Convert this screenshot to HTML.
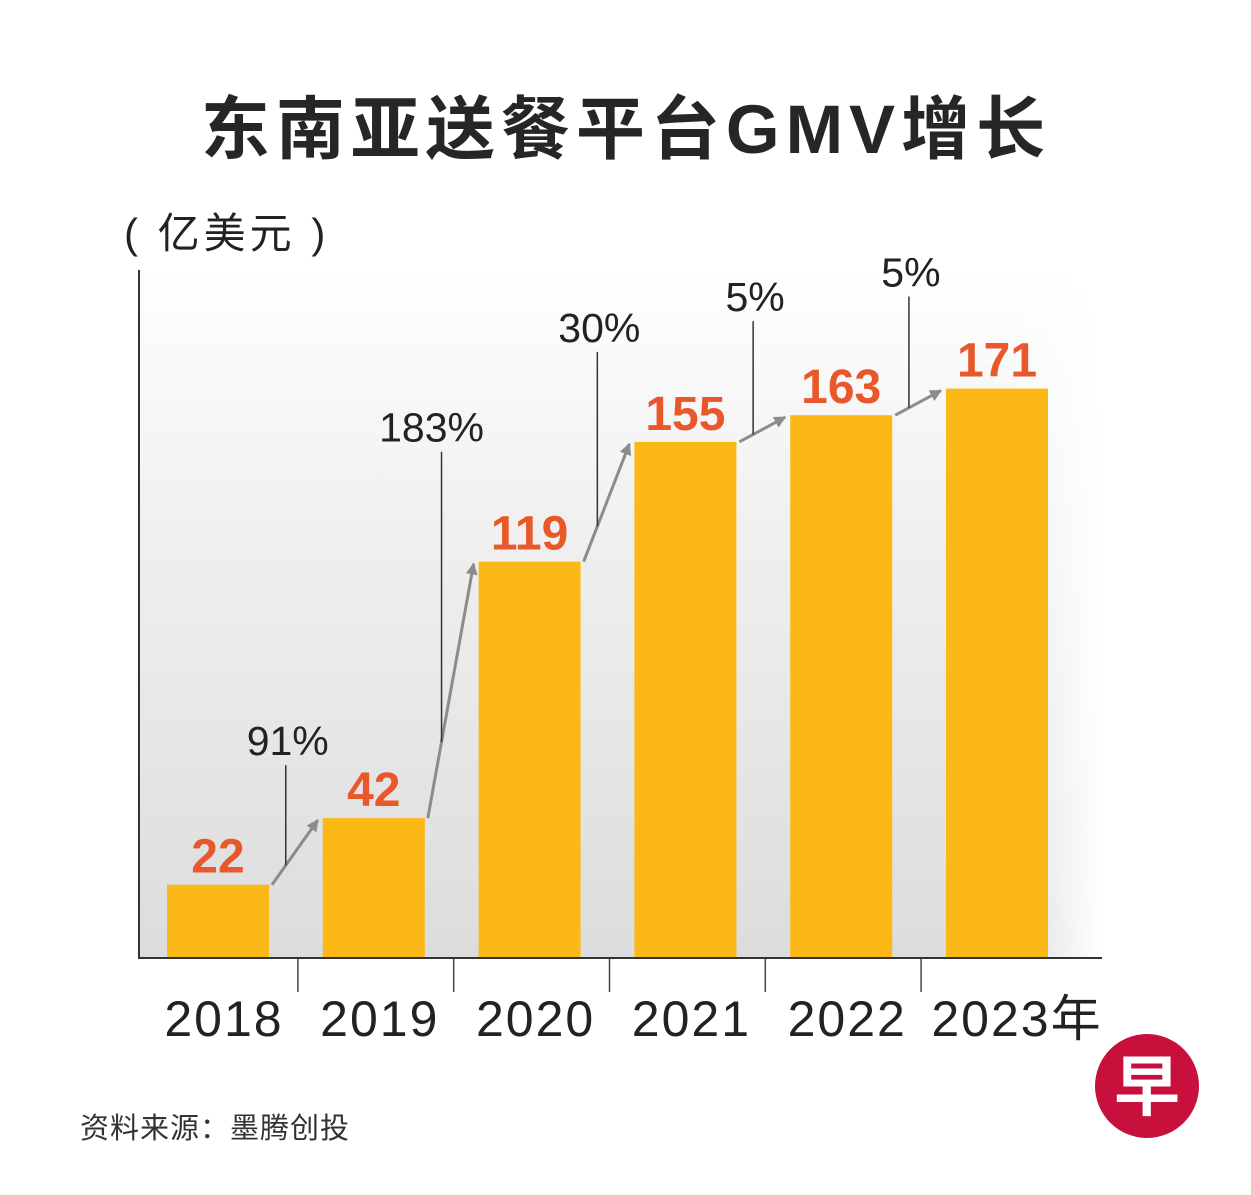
<!DOCTYPE html>
<html><head><meta charset="utf-8">
<style>
html,body{margin:0;padding:0;background:#fff;}
body{width:1251px;height:1190px;overflow:hidden;}
text{font-family:"Liberation Sans","Noto Sans CJK SC",sans-serif;}
</style></head>
<body>
<svg id="chart" width="1251" height="1190" viewBox="0 0 1251 1190" xmlns="http://www.w3.org/2000/svg">
<defs>
<linearGradient id="bgv" x1="0" y1="0" x2="0" y2="1">
<stop offset="0" stop-color="#ffffff"/>
<stop offset="0.35" stop-color="#f1f1f1"/>
<stop offset="1" stop-color="#dcdcdc"/>
</linearGradient>
<linearGradient id="bgh" x1="0" y1="0" x2="1" y2="0">
<stop offset="0.9" stop-color="#fff" stop-opacity="0"/>
<stop offset="1" stop-color="#fff" stop-opacity="1"/>
</linearGradient>
<marker id="arr" viewBox="0 0 10 10" refX="9" refY="5" markerWidth="4" markerHeight="4" orient="auto">
<path d="M0,0 L10,5 L0,10 z" fill="#8c8c8c"/>
</marker>
</defs>
<text x="626" y="153" text-anchor="middle" font-size="69" font-weight="bold" letter-spacing="6" fill="#262626">东南亚送餐平台GMV增长</text>
<rect x="140" y="268" width="962" height="690" fill="url(#bgv)"/>
<rect x="140" y="268" width="962" height="690" fill="url(#bgh)"/>
<text x="124" y="248" font-size="42" letter-spacing="4" fill="#222">( 亿美元 )</text>
<g id="marks"></g>
<line x1="139" y1="270" x2="139" y2="959" stroke="#333" stroke-width="2"/>
<line x1="138" y1="958" x2="1102" y2="958" stroke="#333" stroke-width="2"/>
<text x="80" y="1138" font-size="29" letter-spacing="1" fill="#333">资料来源：墨腾创投</text>
<g>
<circle cx="1147" cy="1086" r="52" fill="#c8103d"/>
<text x="1147" y="1110" text-anchor="middle" font-size="66" font-weight="bold" fill="#fff">早</text>
</g>
</svg>
<script>
const years = ["2018","2019","2020","2021","2022","2023年"];
const values = [22, 42, 119, 155, 163, 171];
const growth = ["91%","183%","30%","5%","5%"];

const svg = document.getElementById('marks');
const NS = 'http://www.w3.org/2000/svg';
const baseY = 958, scale = 3.33;
const firstX = 167, step = 155.8, barW = 102;
const yOf = v => baseY - v * scale;
const xOf = i => firstX + i * step;
const labelOffsets = [63, 120, 100, 104, 102];
const labelShift = [0, -12, 0, 0, 0];
function mk(tag, attrs){const e=document.createElementNS(NS,tag);for(const k in attrs)e.setAttribute(k,attrs[k]);svg.appendChild(e);return e;}

values.forEach((v,i)=>{
  const b = mk('rect',{x:xOf(i),y:yOf(v),width:barW,height:baseY-yOf(v),fill:'#fbb816'});
  
  
  const t = mk('text',{x:xOf(i)+barW/2,y:yOf(v)-12,'text-anchor':'middle','font-size':48,'font-weight':'bold',fill:'#e8582a'});
  t.textContent = v;
  
  
  const y = mk('text',{x:xOf(i)+barW/2+(i===5?20:6),y:1036,'text-anchor':'middle','font-size':50,'letter-spacing':2,fill:'#222'});
  y.textContent = years[i];
  
  
  if(i>0){
    const tx = xOf(i) - (step-barW)/2 + 2;
    const tk = mk('line',{x1:tx,y1:958,x2:tx,y2:992,stroke:'#444','stroke-width':1.5});
    
    
  }
});

growth.forEach((g,i)=>{
  const x1 = xOf(i)+barW+3, y1 = yOf(values[i]);
  const x2 = xOf(i+1)-5, y2 = yOf(values[i+1])+2;
  const a = mk('line',{x1:x1,y1:y1,x2:x2,y2:y2,stroke:'#8c8c8c','stroke-width':3,'marker-end':'url(#arr)'});
  
  
  const lx = x1 + (x2-x1)*0.3;
  const ly = y1 + (y2-y1)*0.3;
  const base = yOf(values[i+1]) - labelOffsets[i];
  const l = mk('line',{x1:lx,y1:ly,x2:lx,y2:base+10,stroke:'#333','stroke-width':1.5});
  
  
  const t = mk('text',{x:lx+2+labelShift[i],y:base,'text-anchor':'middle','font-size':41,fill:'#222'});
  t.textContent = g;
  
  
});
</script>
</body></html>
